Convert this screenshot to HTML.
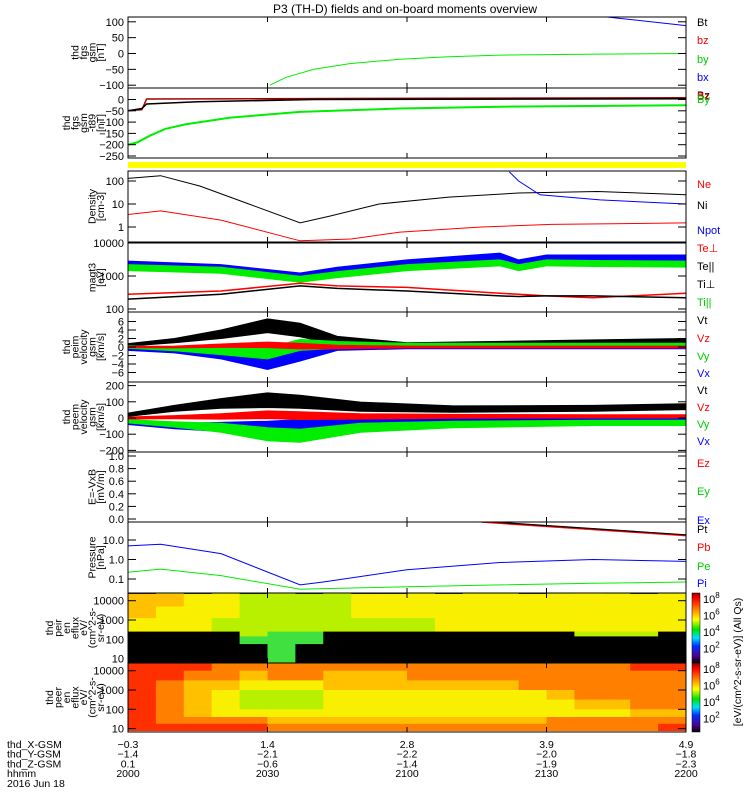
<!DOCTYPE html>
<html><head><meta charset="utf-8"><style>
html,body{margin:0;padding:0;background:#fff}
svg{display:block;font-family:"Liberation Sans",sans-serif}
</style></head><body>
<svg id="c" width="750" height="800" viewBox="0 0 750 800">
<text x="405" y="13" font-size="12" text-anchor="middle">P3 (TH-D) fields and on-board moments overview</text>
</svg>
<script>
// ---- data (time in minutes after 20:00) ----
const timeTicks = [0, 30, 60, 90, 120];
const xgsmLabels = ["-0.3", "1.4", "2.8", "3.9", "4.9"];
const ygsmLabels = ["-1.4", "-2.1", "-2.2", "-2.0", "-1.8"];
const zgsmLabels = ["0.1", "-0.6", "-1.4", "-1.9", "-2.3"];
const hhmmLabels = ["2000", "2030", "2100", "2130", "2200"];

const fgsByT = [30.5, 34, 40, 47.7, 58.5, 69, 80, 101.5, 120];
const fgsByV = [-100, -75, -50, -32, -18, -10, -5, -2, 0];
const fgsBtT = [103, 120];
const fgsBtV = [115, 88];

const fg2GreenT = [0, 2, 4.7, 8, 12.3, 22, 37, 58.5, 80, 120];
const fg2GreenV = [-200, -190, -160, -130, -110, -80, -55, -40, -32, -25];
const fg2BlackT = [0, 3, 4, 15, 40, 120];
const fg2BlackV = [-50, -40, -20, -10, 0, 3];
const fg2RedT = [0, 3, 4, 120];
const fg2RedV = [-50, -45, 2, 8];

const denNeT = [0, 7, 15.5, 26, 37, 43.5, 54, 69, 84, 101, 120];
const denNeV = [130, 170, 60, 10, 1.5, 3, 10, 20, 30, 35, 25];
const denNiT = [0, 7, 20, 37, 48, 58.5, 76, 91, 120];
const denNiV = [3.5, 5, 2, 0.25, 0.3, 0.6, 1.0, 1.3, 1.5];
const denNpotT = [82, 84, 88.6, 101.5, 120];
const denNpotV = [250, 100, 25, 15, 10];

const tmpT = [0, 20, 37, 45, 60, 80, 84, 90, 100, 120];
const tmpBlue = [2300, 1800, 1000, 1500, 2500, 4000, 2500, 3500, 3500, 3500];
const tmpGreen = [1800, 1500, 800, 1100, 1800, 2500, 1800, 2500, 2400, 2300];
const tmpRed = [280, 350, 600, 500, 450, 300, 280, 250, 220, 300];
const tmpBlack = [200, 280, 500, 420, 350, 250, 240, 250, 250, 220];

const vimT = [0, 10, 20, 30, 37, 45, 60, 90, 120];
const vimBlack = [0.5, 1.5, 3, 5, 4, 1.5, 0.5, 1, 1.5];
const vimBlackAmp = [0.3, 0.5, 1, 1.6, 1.6, 1, 0.5, 0.5, 0.5];
const vimRed = [0, 0, 0.3, 0.5, 0.2, 0, 0, 0, 0];
const vimGreen = [0, -0.5, -1, -1.5, 0.5, 0.5, 0.5, 0.5, 0.5];
const vimBlue = [-0.5, -1, -2, -4, -2, 0, 0, 0, 0];
const vimAmp = [0.3, 0.4, 0.8, 1.3, 1.3, 0.8, 0.4, 0.4, 0.4];

const vemT = [0, 10, 20, 30, 37, 50, 70, 100, 120];
const vemBlack = [20, 60, 90, 110, 100, 70, 55, 60, 70];
const vemBlackAmp = [10, 18, 30, 45, 40, 28, 20, 18, 18];
const vemRed = [0, 5, 10, 20, 15, 10, 10, 10, 10];
const vemGreen = [-20, -40, -60, -100, -110, -60, -40, -30, -30];
const vemBlue = [-30, -50, -55, -60, -50, -30, -25, -20, -20];
const vemAmp = [10, 16, 28, 40, 40, 28, 20, 16, 16];

const prT = [0, 7, 20, 37, 42, 60, 80, 100, 120];
const prPi = [5, 6, 2, 0.05, 0.07, 0.3, 0.7, 1.0, 0.8];
const prPe = [0.22, 0.32, 0.15, 0.03, 0.032, 0.04, 0.05, 0.06, 0.07];
const prPtT = [76, 120];
const prPtV = [90, 18];

const peirRows = [
 "KLKLKLKLKKLKLLKLYLKL",
 "OOYYLLLLYYYYYYYYYYYY",
 "OYYYLLLLYYYYYYYYYYYY",
 "YYYLLLLLLLLYYYYYYYYY",
 "KKKKLGGKKKKKKKKKLLLK",
 "KKKKGGGKKKKKKKKKKKKK",
 "KKKKKGKKKKKKKKKKKKKK"];
const peirEdges = [4.5, 4.35, 3.7, 3.1, 2.4, 2.15, 1.75, 0.8]; // log10 eV
const peerRows = [
 "DDDRRRRRRRRRRRRRRRDD",
 "DDRRORROOORRRRRRRRRR",
 "DROOYYYOOOOOOORRRRRR",
 "DROYLLLYYYYYYYYORRRR",
 "DROYLLLYYYYYYYYYOORR",
 "DROYYYYYYYYYYYYYYYOO",
 "DRRRROOOOOOOOOORRRRR",
 "DDDDDRRRRRRRRRRRRRRD"];
const peerEdges = [4.4, 4.0, 3.5, 3.0, 2.5, 2.0, 1.6, 1.25, 0.9];
const palette = {K:"#000000",G:"#40e040",L:"#b8f000",Y:"#f8f000",O:"#ffc000",R:"#ff8000",D:"#ff3000"};

// ---- layout ----
const NS = "http://www.w3.org/2000/svg";
const svg = document.getElementById('c');
const X0 = 128, X1 = 686;
const xs = m => X0 + (m / 120) * (X1 - X0);
function el(tag, attrs, parent) {
  const e = document.createElementNS(NS, tag);
  for (const k in attrs) e.setAttribute(k, attrs[k]);
  (parent || svg).appendChild(e);
  return e;
}
const linY = (v0, y0, pxPer) => v => y0 - (v - v0) * pxPer;
const logY = (y1, dec) => v => y1 - Math.log10(v) * dec;

const panels = [
 {name:"fgs-gsm-panel", top:17, bot:88, y:linY(0,53.5,0.317), ticks:[100,50,0,-50,-100], lab:["thd","fgs","gsm","[nT]"],
  leg:[["Bt","#000",22],["bz","#f00",40],["by","#0c0",59],["bx","#00f",77]]},
 {name:"fgs-gsm-t89-panel", top:88, bot:158, y:linY(0,99.5,0.226), ticks:[0,-50,-100,-150,-200,-250], lab:["thd","fgs","gsm","-t89","[nT]"],
  leg:[["Bz","#000",95],["Bz","#f00",96],["By","#0c0",99]]},
 {name:"density-panel", top:171, bot:242, y:logY(227,23), ticks:[100,10,1], fmt:v=>String(v), lab:["Density","[cm-3]"],
  leg:[["Ne","#f00",184],["Ni","#000",205],["Npot","#00f",230]]},
 {name:"temperature-panel", top:243, bot:312, y:logY(276+99,33), ticks:[10000,1000,100], lab:["magt3","[eV]"],
  leg:[["Te\u22a5","#f00",248],["Te||","#000",266],["Ti\u22a5","#000",284],["Ti||","#0c0",302]]},
 {name:"ion-velocity-panel", top:312, bot:382, y:linY(0,347,4.25), ticks:[6,4,2,0,-2,-4,-6], lab:["thd","peim","velocity","gsm","[km/s]"],
  leg:[["Vt","#000",320],["Vz","#f00",338],["Vy","#0c0",356],["Vx","#00f",373]]},
 {name:"electron-velocity-panel", top:382, bot:452, y:linY(0,418,0.162), ticks:[200,100,0,-100,-200], lab:["thd","peem","velocity","gsm","[km/s]"],
  leg:[["Vt","#000",390],["Vz","#f00",407],["Vy","#0c0",424],["Vx","#00f",441]]},
 {name:"efield-panel", top:452, bot:522, y:linY(0,519,63), ticks:[1.0,0.8,0.6,0.4,0.2,0.0], fmt:v=>v.toFixed(1), lab:["E=-VxB","[mV/m]"],
  leg:[["Ez","#f00",463],["Ey","#0c0",491],["Ex","#00f",520]]},
 {name:"pressure-panel", top:522, bot:593, y:logY(559.5,19.5), ticks:[10,1,0.1], fmt:v=>v.toFixed(1), lab:["Pressure","[nPa]"],
  leg:[["Pt","#000",529],["Pb","#f00",547],["Pe","#0c0",566],["Pi","#00f",583]]},
 {name:"ion-spectrogram-panel", top:593, bot:663, y:logY(620+57.9,19.3), ticks:[10000,1000,100,10], lab:["thd","peir","en","eflux","eV/","(cm^2-s-","sr-eV)"], leg:[]},
 {name:"electron-spectrogram-panel", top:663, bot:732, y:logY(690+57.9,19.3), ticks:[10000,1000,100,10], lab:["thd","peer","en","eflux","eV/","(cm^2-s-","sr-eV)"], leg:[]}
];

// yellow bar
const yb = el('rect', {x:X0, y:162, width:X1-X0, height:6, fill:"#ffff00"});



function polyline(p, T, V, color, w) {
  const pts = T.map((t,i)=>xs(t).toFixed(1)+","+p.y(V[i]).toFixed(1)).join(" ");
  return el('polyline', {points:pts, fill:"none", stroke:color, "stroke-width":w||1, "clip-path":"url(#clip-"+p.name+")"});
}
function band(p, T, V, A, color) {
  const up = T.map((t,i)=>xs(t).toFixed(1)+","+p.y(V[i]+A[i]).toFixed(1));
  const dn = T.map((t,i)=>xs(t).toFixed(1)+","+p.y(V[i]-A[i]).toFixed(1)).reverse();
  return el('polygon', {points:up.concat(dn).join(" "), fill:color, stroke:color, "stroke-width":1, "clip-path":"url(#clip-"+p.name+")"});
}
function spectro(p, rows, edges) {
  const g = el('g', {});
  
  
  const nc = rows[0].length, w = 120 / nc;
  rows.forEach((r, ri) => {
    const yt = p.y(Math.pow(10, edges[ri])), yb2 = p.y(Math.pow(10, edges[ri+1]));
    for (let c = 0; c < nc; c++) {
      const x0 = xs(c*w), x1 = xs((c+1)*w);
      const cell = el('rect', {x:x0.toFixed(1), y:Math.max(p.top,yt).toFixed(1), width:(x1-x0+0.5).toFixed(1), height:(Math.min(p.bot,yb2)-Math.max(p.top,yt)+0.5).toFixed(1), fill:palette[r[c]]}, g);
      
      
    }
  });
}

const defs = el('defs', {});
panels.forEach(p => {
  const cp = el('clipPath', {id:"clip-"+p.name}, defs);
  el('rect', {x:X0, y:p.top, width:X1-X0, height:p.bot-p.top}, cp);
});
const grad = el('linearGradient', {id:"cbar", x1:0, y1:0, x2:0, y2:1}, defs);
[["0","#900000"],["0.08","#ff0000"],["0.25","#ff9000"],["0.38","#ffff00"],["0.52","#00e000"],["0.64","#00e0ff"],["0.76","#0030ff"],["0.9","#500090"],["1","#000000"]]
 .forEach(s => el('stop', {offset:s[0], "stop-color":s[1]}, grad));

// series
const P = panels;
spectro(P[8], peirRows, peirEdges);
spectro(P[9], peerRows, peerEdges);

polyline(P[0], fgsByT, fgsByV, "#00ee00");
polyline(P[0], fgsBtT, fgsBtV, "#0000ff");
polyline(P[1], fg2RedT, fg2RedV, "#a00000", 1.5);
polyline(P[1], fg2BlackT, fg2BlackV, "#000", 1.5);
polyline(P[1], fg2GreenT, fg2GreenV, "#00ee00", 2);
polyline(P[2], denNeT, denNeV, "#000");
polyline(P[2], denNiT, denNiV, "#f00");
polyline(P[2], denNpotT, denNpotV, "#00f");
function logBand(p, T, V, color, name) {
  const up = T.map((t,i)=>xs(t).toFixed(1)+","+(p.y(V[i])-3.5).toFixed(1));
  const dn = T.map((t,i)=>xs(t).toFixed(1)+","+(p.y(V[i])+3.5).toFixed(1)).reverse();
  const g = el('polygon', {points:up.concat(dn).join(" "), fill:color, "clip-path":"url(#clip-"+p.name+")"});
  
  
}
logBand(P[3], tmpT, tmpBlue, "#0000ff", "ti-perp-band");
logBand(P[3], tmpT, tmpGreen, "#00ee00", "ti-par-band");
polyline(P[3], tmpT, tmpRed, "#f00", 1.5);
polyline(P[3], tmpT, tmpBlack, "#000", 1.5);

band(P[4], vimT, vimBlack, vimBlackAmp, "#000");
band(P[4], vimT, vimBlue, vimAmp, "#0000ff");
band(P[4], vimT, vimGreen, vimAmp, "#00ee00");
band(P[4], vimT, vimRed, vimAmp.map(a=>a*0.5), "#ff0000");

band(P[5], vemT, vemBlack, vemBlackAmp, "#000");
band(P[5], vemT, vemBlue, vemAmp, "#0000ff");
band(P[5], vemT, vemGreen, vemAmp, "#00ee00");
band(P[5], vemT, vemRed, vemAmp.map(a=>a*0.6), "#ff0000");

polyline(P[7], prT, prPi, "#00f");
polyline(P[7], prT, prPe, "#00ee00");
polyline(P[7], prPtT, prPtV, "#000", 1.5);
polyline(P[7], prPtT, prPtV.map(v=>v*0.9), "#f00");

// frames, ticks, labels
panels.forEach(p => {
  const f = el('rect', {x:X0, y:p.top, width:X1-X0, height:p.bot-p.top, fill:"none", stroke:"#000", "stroke-width":1});
  
  
  timeTicks.forEach(t => {
    el('line', {x1:xs(t), x2:xs(t), y1:p.bot, y2:p.bot-5, stroke:"#000"});
    el('line', {x1:xs(t), x2:xs(t), y1:p.top, y2:p.top+5, stroke:"#000"});
  });
  p.ticks.forEach(v => {
    const y = p.y(v);
    el('line', {x1:X0, x2:X0+8, y1:y, y2:y, stroke:"#000"});
    el('line', {x1:X1, x2:X1-8, y1:y, y2:y, stroke:"#000"});
    const t = el('text', {x:124, y:y+4, "font-size":11, "text-anchor":"end"});
    t.textContent = p.fmt ? p.fmt(v) : String(v).replace('-', '\u2212');
    
    
  });
  const cy = (p.top + p.bot) / 2, n = p.lab.length;
  const lt = el('text', {"font-size":10.5, "text-anchor":"middle", transform:"translate("+(104 - (n-1)*8.5)+","+cy+") rotate(-90)"});
  
  
  p.lab.forEach((s, i) => {
    const ts = el('tspan', {x:0, dy: i===0 ? 0 : 8.5}, lt);
    ts.textContent = s;
  });
  p.leg.forEach(l => {
    const t = el('text', {x:697, y:l[2]+4, "font-size":11, fill:l[1]});
    t.textContent = l[0];
    
    
  });
});

// colorbars
[[593,663],[663,732]].forEach((r, i) => {
  const cb = el('rect', {x:692, y:r[0], width:8, height:r[1]-r[0], fill:"url(#cbar)", stroke:"#000", "stroke-width":0.5});
  
  
  ["8","6","4","2"].forEach((e, k) => {
    const y = r[0] + 6 + k * 16.5;
    const t = el('text', {x:703, y:y+4, "font-size":11});
    t.textContent = "10";
    const s = el('tspan', {dy:-5, "font-size":8}, t);
    s.textContent = e;
    
    
  });
});
const cbt = el('text', {"font-size":10.5, "text-anchor":"middle", transform:"translate(741,662) rotate(-90)"});
cbt.textContent = "[eV/(cm^2-s-sr-eV)] (All Qs)";



// bottom ephemeris labels
const rowsLab = ["thd_X-GSM","thd_Y-GSM","thd_Z-GSM","hhmm","2016 Jun 18"];
const rowVals = [xgsmLabels, ygsmLabels, zgsmLabels, hhmmLabels];
rowsLab.forEach((s, i) => {
  const t = el('text', {x:7, y:748 + i*9.7, "font-size":10.5});
  t.textContent = s;
  
  
});
rowVals.forEach((arr, i) => {
  arr.forEach((v, k) => {
    const t = el('text', {x:xs(timeTicks[k]), y:748 + i*9.7, "font-size":10.5, "text-anchor":"middle"});
    t.textContent = v.replace('-', '\u2212');
    
    
  });
});
</script>
</body></html>
